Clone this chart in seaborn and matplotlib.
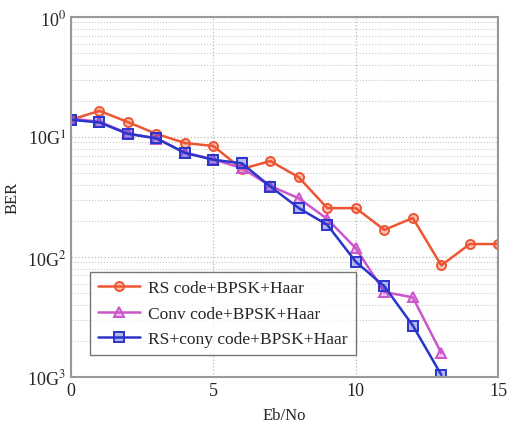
import numpy as np
import pandas as pd
import matplotlib
matplotlib.use("Agg")
import matplotlib.pyplot as plt
import seaborn as sns
from matplotlib.ticker import FixedLocator, LogLocator, NullFormatter

ebno = list(range(16))
rs_ber = [0.139, 0.165, 0.133, 0.106, 0.089, 0.084, 0.054, 0.063, 0.046, 0.0255,
          0.0255, 0.0168, 0.0211, 0.0085, 0.0128, 0.0128]
conv_x = list(range(14))
conv_ber = [0.142, 0.134, 0.107, 0.097, 0.074, 0.065, 0.055, 0.039, 0.0308, 0.0207,
            0.0118, 0.0051, 0.0046, 0.00158]
rsconv_x = list(range(14))
rsconv_ber = [0.139, 0.132, 0.106, 0.0975, 0.0736, 0.0645, 0.0603, 0.0386, 0.0255,
              0.0185, 0.0091, 0.0057, 0.00268, 0.00104]
labels = ["RS code+BPSK+Haar", "Conv code+BPSK+Haar", "RS+cony code+BPSK+Haar"]
ytick_vals = [1e-3, 1e-2, 1e-1, 1e0]
ytick_labels = ["10G$^{3}$", "10G$^{2}$", "10G$^{1}$", "10$^{0}$"]
xtick_vals = [0, 5, 10, 15]

sns.set_style("white")
plt.rcParams['font.family'] = ['Liberation Serif', 'DejaVu Serif']
plt.rcParams['mathtext.fontset'] = 'stix'

fig = plt.figure(figsize=(5.1, 4.27), dpi=100)
ax = fig.add_axes([0.139, 0.115, 0.838, 0.843])

colors = ["#ee5533", "#cc55cc", "#2a35cc"]
markers = ["o", "^", "s"]
xs = [ebno, conv_x, rsconv_x]
ys = [rs_ber, conv_ber, rsconv_ber]
for x, y, c, m, lab in zip(xs, ys, colors, markers, labels):
    df = pd.DataFrame({"x": x, "y": y})
    sns.lineplot(data=df, x="x", y="y", ax=ax, color=c, marker=m, markersize=6.5,
                 markerfacecolor=matplotlib.colors.to_rgba(c, 0.35),
                 markeredgecolor=c, markeredgewidth=1.4, linewidth=1.8, label=lab)

ax.set_yscale("log")
ax.set_xlim(0, 15)
ax.set_ylim(1e-3, 1e0)
ax.yaxis.set_major_locator(FixedLocator(ytick_vals))
ax.set_yticklabels(ytick_labels, fontsize=13)
ax.yaxis.set_minor_locator(LogLocator(base=10, subs=np.arange(2, 10)))
ax.yaxis.set_minor_formatter(NullFormatter())
ax.set_xticks(xtick_vals)
ax.set_xticklabels([str(v) for v in xtick_vals], fontsize=13)
ax.grid(True, which="major", color="#bbbbbb", linestyle=":", linewidth=0.9)
ax.grid(True, which="minor", axis="y", color="#c8c8c8", linestyle=":", linewidth=0.8)
ax.tick_params(axis="both", which="both", length=3, direction="in", color="#888888")
for sp in ax.spines.values():
    sp.set_color("#999999")
    sp.set_linewidth(1.5)
ax.set_xlabel("Eb/No", fontsize=12, labelpad=6)
ax.set_ylabel("BER", fontsize=12)
ax.yaxis.set_label_coords(-0.118, 0.5)

leg = ax.legend(loc="lower left", bbox_to_anchor=(0.045, 0.06), fontsize=12.5,
                frameon=True, fancybox=False, handlelength=2.4, borderpad=0.45,
                labelspacing=0.55, handletextpad=0.5, borderaxespad=0.0)
leg.get_frame().set_edgecolor("#555555")
leg.get_frame().set_linewidth(1.0)

fig.savefig("out.png", dpi=100)
